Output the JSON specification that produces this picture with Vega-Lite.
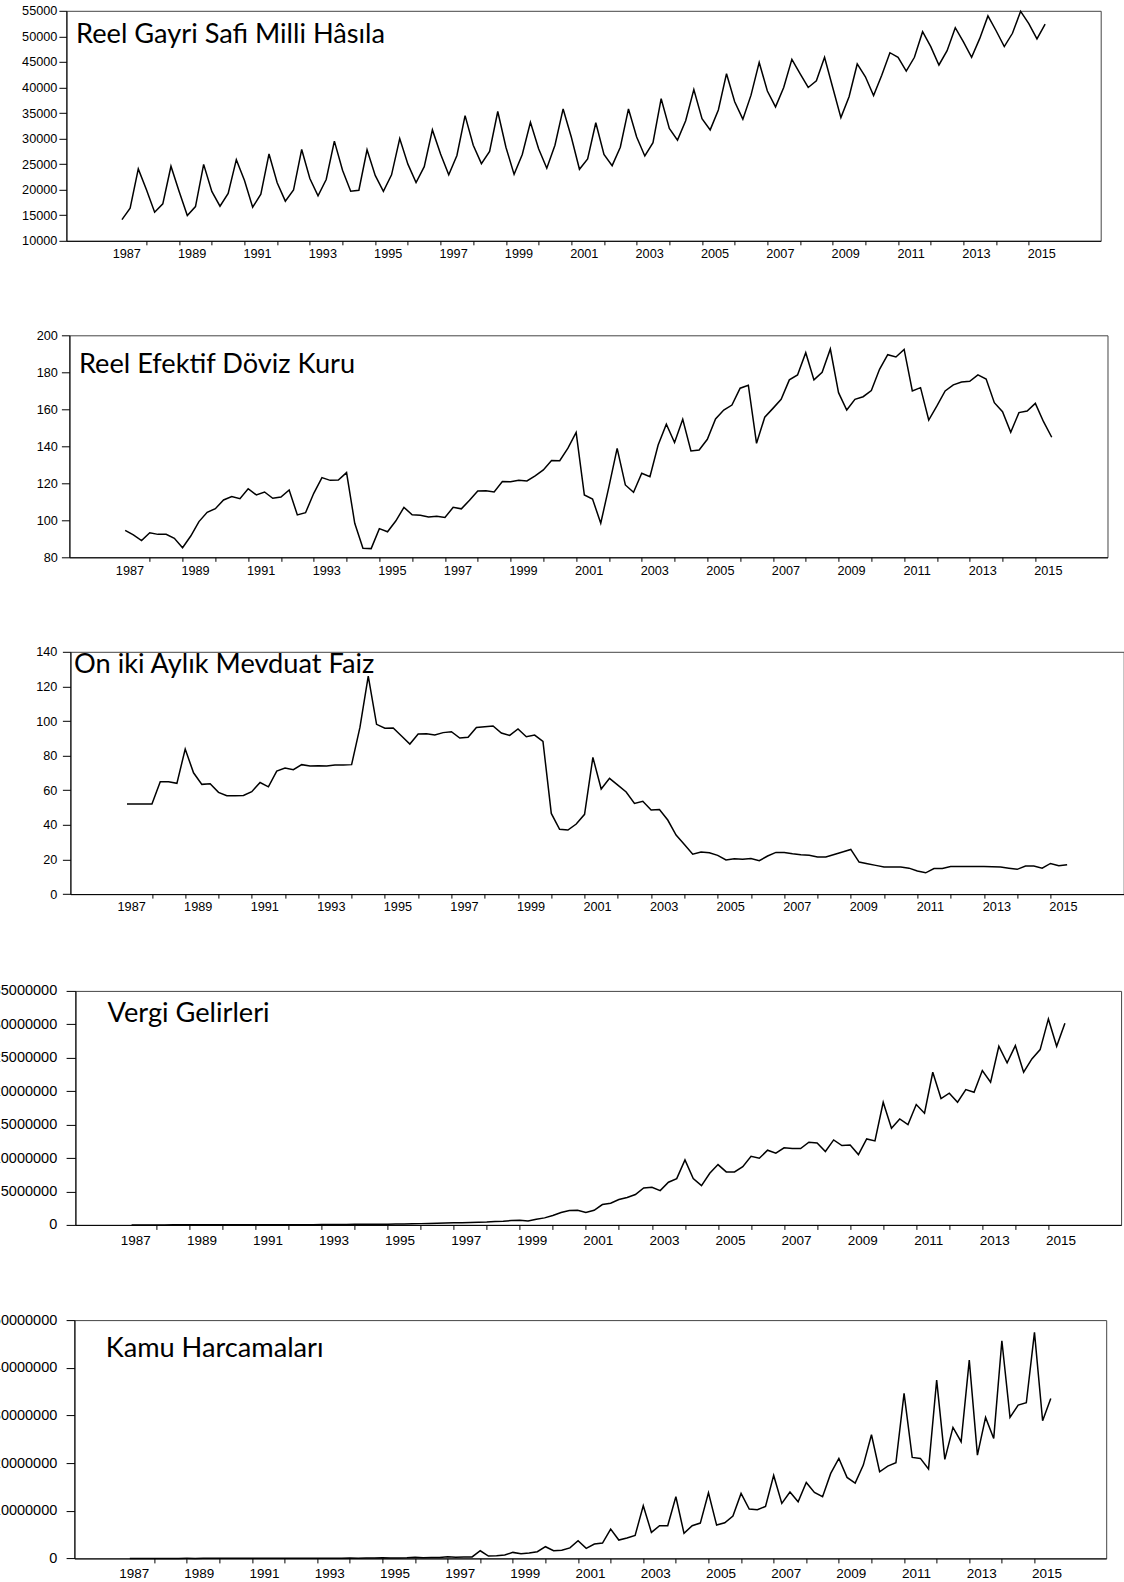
{
"$schema": "https://vega.github.io/schema/vega-lite/v6.json",
"background": "white",
"autosize": {"type": "pad"},
"padding": {"left": -8.6, "top": 3.8, "right": 0, "bottom": 0},
"config": {
  "view": {"stroke": "#444", "strokeWidth": 1},
  "axis": {"labelFont": "Liberation Sans", "labelColor": "#000", "tickColor": "#000", "domainColor": "#000", "grid": false, "labelOverlap": false, "labelFlush": false, "labelBound": false, "domainWidth": 1, "tickWidth": 1}
},
"datasets": {"q": [
{"t":1987,"gdp":14150,"reer":94.6,"rate":52,"tax":1500,"exp":1000},
{"t":1987.25,"gdp":16380,"reer":92.1,"rate":52,"tax":1700,"exp":1200},
{"t":1987.5,"gdp":24060,"reer":89.0,"rate":52,"tax":1900,"exp":1300},
{"t":1987.75,"gdp":20000,"reer":93.3,"rate":52,"tax":2300,"exp":2500},
{"t":1988,"gdp":15590,"reer":92.4,"rate":64.9,"tax":2600,"exp":1800},
{"t":1988.25,"gdp":17230,"reer":92.4,"rate":64.9,"tax":3000,"exp":2100},
{"t":1988.5,"gdp":24590,"reer":90.3,"rate":64.0,"tax":3400,"exp":2400},
{"t":1988.75,"gdp":19650,"reer":85.2,"rate":83.8,"tax":4200,"exp":4500},
{"t":1989,"gdp":14930,"reer":91.5,"rate":70.1,"tax":4800,"exp":3300},
{"t":1989.25,"gdp":16700,"reer":99.3,"rate":63.4,"tax":5600,"exp":3900},
{"t":1989.5,"gdp":24960,"reer":104.3,"rate":63.8,"tax":6400,"exp":4500},
{"t":1989.75,"gdp":19650,"reer":106.3,"rate":58.8,"tax":7800,"exp":8500},
{"t":1990,"gdp":16770,"reer":111.0,"rate":56.8,"tax":9000,"exp":6000},
{"t":1990.25,"gdp":19260,"reer":112.8,"rate":56.8,"tax":10500,"exp":7200},
{"t":1990.5,"gdp":25870,"reer":111.7,"rate":57.0,"tax":12000,"exp":8300},
{"t":1990.75,"gdp":21800,"reer":117.1,"rate":59.2,"tax":14500,"exp":15000},
{"t":1991,"gdp":16570,"reer":113.7,"rate":64.5,"tax":16000,"exp":11000},
{"t":1991.25,"gdp":19130,"reer":115.3,"rate":62.0,"tax":18500,"exp":13000},
{"t":1991.5,"gdp":26990,"reer":111.9,"rate":71.1,"tax":21000,"exp":15000},
{"t":1991.75,"gdp":21360,"reer":112.6,"rate":72.8,"tax":25000,"exp":27000},
{"t":1992,"gdp":17760,"reer":116.4,"rate":71.9,"tax":28000,"exp":19000},
{"t":1992.25,"gdp":19930,"reer":102.9,"rate":74.8,"tax":33000,"exp":22000},
{"t":1992.5,"gdp":27860,"reer":104.1,"rate":74.0,"tax":37000,"exp":25000},
{"t":1992.75,"gdp":22200,"reer":114.6,"rate":74.2,"tax":44000,"exp":45000},
{"t":1993,"gdp":18800,"reer":123.1,"rate":74.0,"tax":50000,"exp":32000},
{"t":1993.25,"gdp":22000,"reer":121.6,"rate":74.6,"tax":58000,"exp":37000},
{"t":1993.5,"gdp":29500,"reer":121.8,"rate":74.6,"tax":65000,"exp":42000},
{"t":1993.75,"gdp":23800,"reer":125.8,"rate":74.8,"tax":78000,"exp":75000},
{"t":1994,"gdp":19700,"reer":98.4,"rate":96.3,"tax":85000,"exp":52000},
{"t":1994.25,"gdp":19900,"reer":84.9,"rate":126.0,"tax":95000,"exp":62000},
{"t":1994.5,"gdp":27800,"reer":84.7,"rate":98.1,"tax":105000,"exp":70000},
{"t":1994.75,"gdp":22800,"reer":95.5,"rate":95.8,"tax":115000,"exp":130000},
{"t":1995,"gdp":19700,"reer":93.8,"rate":96.0,"tax":120000,"exp":90000},
{"t":1995.25,"gdp":22900,"reer":99.6,"rate":91.3,"tax":140000,"exp":105000},
{"t":1995.5,"gdp":30000,"reer":107.0,"rate":86.7,"tax":160000,"exp":120000},
{"t":1995.75,"gdp":25000,"reer":103.0,"rate":92.5,"tax":190000,"exp":220000},
{"t":1996,"gdp":21400,"reer":102.7,"rate":92.7,"tax":210000,"exp":150000},
{"t":1996.25,"gdp":24500,"reer":101.8,"rate":91.9,"tax":240000,"exp":170000},
{"t":1996.5,"gdp":31700,"reer":102.2,"rate":93.3,"tax":270000,"exp":190000},
{"t":1996.75,"gdp":27000,"reer":101.5,"rate":93.8,"tax":310000,"exp":350000},
{"t":1997,"gdp":22900,"reer":107.0,"rate":90.2,"tax":330000,"exp":250000},
{"t":1997.25,"gdp":26700,"reer":106.2,"rate":90.6,"tax":360000,"exp":280000},
{"t":1997.5,"gdp":34500,"reer":110.8,"rate":96.3,"tax":380000,"exp":300000},
{"t":1997.75,"gdp":28700,"reer":115.8,"rate":96.7,"tax":420000,"exp":1600000},
{"t":1998,"gdp":25100,"reer":116.0,"rate":97.1,"tax":500000,"exp":490000},
{"t":1998.25,"gdp":27500,"reer":115.3,"rate":93.1,"tax":550000,"exp":560000},
{"t":1998.5,"gdp":35300,"reer":121.0,"rate":91.7,"tax":650000,"exp":700000},
{"t":1998.75,"gdp":28300,"reer":120.8,"rate":95.4,"tax":700000,"exp":1260000},
{"t":1999,"gdp":23000,"reer":121.6,"rate":90.9,"tax":600000,"exp":980000},
{"t":1999.25,"gdp":26900,"reer":121.3,"rate":91.9,"tax":850000,"exp":1120000},
{"t":1999.5,"gdp":33200,"reer":124.0,"rate":88.2,"tax":1050000,"exp":1400000},
{"t":1999.75,"gdp":28000,"reer":127.2,"rate":46.6,"tax":1400000,"exp":2450000},
{"t":2000,"gdp":24200,"reer":132.3,"rate":37.4,"tax":1840000,"exp":1610000},
{"t":2000.25,"gdp":28700,"reer":132.2,"rate":37.0,"tax":2140000,"exp":1700000},
{"t":2000.5,"gdp":35800,"reer":139.0,"rate":40.5,"tax":2190000,"exp":2200000},
{"t":2000.75,"gdp":30300,"reer":147.5,"rate":46.1,"tax":1840000,"exp":3710000},
{"t":2001,"gdp":24000,"reer":113.7,"rate":79.0,"tax":2190000,"exp":2100000},
{"t":2001.25,"gdp":26000,"reer":111.5,"rate":60.7,"tax":3040000,"exp":3010000},
{"t":2001.5,"gdp":33100,"reer":98.4,"rate":66.9,"tax":3240000,"exp":3220000},
{"t":2001.75,"gdp":26900,"reer":118.2,"rate":63.0,"tax":3790000,"exp":6150000},
{"t":2002,"gdp":24700,"reer":138.9,"rate":59.0,"tax":4090000,"exp":3850000},
{"t":2002.25,"gdp":28300,"reer":119.1,"rate":52.4,"tax":4540000,"exp":4270000},
{"t":2002.5,"gdp":35800,"reer":115.1,"rate":53.6,"tax":5530000,"exp":4830000},
{"t":2002.75,"gdp":30300,"reer":125.4,"rate":48.6,"tax":5630000,"exp":11050000},
{"t":2003,"gdp":26600,"reer":123.6,"rate":48.9,"tax":5130000,"exp":5450000},
{"t":2003.25,"gdp":29200,"reer":140.7,"rate":42.8,"tax":6380000,"exp":6850000},
{"t":2003.5,"gdp":37800,"reer":151.9,"rate":34.1,"tax":6930000,"exp":6850000},
{"t":2003.75,"gdp":32000,"reer":142.0,"rate":28.7,"tax":9720000,"exp":12940000},
{"t":2004,"gdp":29700,"reer":154.6,"rate":23.1,"tax":6930000,"exp":5240000},
{"t":2004.25,"gdp":33500,"reer":137.5,"rate":24.3,"tax":5880000,"exp":6850000},
{"t":2004.5,"gdp":39600,"reer":138.0,"rate":23.9,"tax":7730000,"exp":7410000},
{"t":2004.75,"gdp":33900,"reer":143.8,"rate":22.4,"tax":9020000,"exp":13780000},
{"t":2005,"gdp":31700,"reer":154.8,"rate":19.7,"tax":7930000,"exp":6990000},
{"t":2005.25,"gdp":35600,"reer":159.6,"rate":20.4,"tax":7930000,"exp":7480000},
{"t":2005.5,"gdp":42700,"reer":162.3,"rate":20.2,"tax":8720000,"exp":8880000},
{"t":2005.75,"gdp":37200,"reer":171.4,"rate":20.6,"tax":10270000,"exp":13640000},
{"t":2006,"gdp":33800,"reer":173.0,"rate":19.3,"tax":9970000,"exp":10350000},
{"t":2006.25,"gdp":38500,"reer":141.6,"rate":22.0,"tax":11170000,"exp":10210000},
{"t":2006.5,"gdp":44900,"reer":155.7,"rate":24.1,"tax":10720000,"exp":10910000},
{"t":2006.75,"gdp":39300,"reer":160.5,"rate":24.1,"tax":11520000,"exp":17410000},
{"t":2007,"gdp":36200,"reer":165.4,"rate":23.3,"tax":11420000,"exp":11540000},
{"t":2007.25,"gdp":40000,"reer":175.9,"rate":22.7,"tax":11420000,"exp":13920000},
{"t":2007.5,"gdp":45500,"reer":178.6,"rate":22.4,"tax":12360000,"exp":11890000},
{"t":2007.75,"gdp":42700,"reer":190.6,"rate":21.4,"tax":12260000,"exp":15940000},
{"t":2008,"gdp":40000,"reer":175.9,"rate":21.4,"tax":10970000,"exp":13850000},
{"t":2008.25,"gdp":41300,"reer":180.0,"rate":22.9,"tax":12710000,"exp":12940000},
{"t":2008.5,"gdp":45900,"reer":192.6,"rate":24.3,"tax":11860000,"exp":17830000},
{"t":2008.75,"gdp":40000,"reer":169.0,"rate":25.8,"tax":11960000,"exp":20980000},
{"t":2009,"gdp":34100,"reer":159.6,"rate":18.5,"tax":10520000,"exp":16990000},
{"t":2009.25,"gdp":38200,"reer":165.4,"rate":17.5,"tax":12860000,"exp":15800000},
{"t":2009.5,"gdp":44600,"reer":166.8,"rate":16.6,"tax":12560000,"exp":19580000},
{"t":2009.75,"gdp":42100,"reer":170.1,"rate":15.6,"tax":18340000,"exp":25940000},
{"t":2010,"gdp":38400,"reer":181.6,"rate":15.6,"tax":14460000,"exp":18180000},
{"t":2010.25,"gdp":42400,"reer":189.5,"rate":15.6,"tax":15850000,"exp":19370000},
{"t":2010.5,"gdp":46800,"reer":188.3,"rate":15.0,"tax":15000000,"exp":20070000},
{"t":2010.75,"gdp":45900,"reer":192.4,"rate":13.3,"tax":18000000,"exp":34620000},
{"t":2011,"gdp":43200,"reer":169.9,"rate":12.3,"tax":16700000,"exp":21190000},
{"t":2011.25,"gdp":45900,"reer":171.7,"rate":14.8,"tax":22830000,"exp":20980000},
{"t":2011.5,"gdp":50900,"reer":154.2,"rate":14.8,"tax":18900000,"exp":18740000},
{"t":2011.75,"gdp":48000,"reer":161.8,"rate":16.0,"tax":19700000,"exp":37410000},
{"t":2012,"gdp":44400,"reer":169.9,"rate":16.0,"tax":18340000,"exp":20770000},
{"t":2012.25,"gdp":47200,"reer":173.2,"rate":16.0,"tax":20240000,"exp":27480000},
{"t":2012.5,"gdp":51700,"reer":174.8,"rate":16.0,"tax":19840000,"exp":24480000},
{"t":2012.75,"gdp":48900,"reer":175.1,"rate":16.0,"tax":23080000,"exp":41610000},
{"t":2013,"gdp":45900,"reer":178.6,"rate":15.8,"tax":21340000,"exp":21680000},
{"t":2013.25,"gdp":49600,"reer":176.4,"rate":15.6,"tax":26720000,"exp":29580000},
{"t":2013.5,"gdp":54000,"reer":163.6,"rate":15.0,"tax":24230000,"exp":25170000},
{"t":2013.75,"gdp":51100,"reer":158.7,"rate":14.3,"tax":26820000,"exp":45660000},
{"t":2014,"gdp":48000,"reer":147.6,"rate":16.2,"tax":22830000,"exp":29580000},
{"t":2014.25,"gdp":50600,"reer":158.2,"rate":16.2,"tax":24830000,"exp":32170000},
{"t":2014.5,"gdp":54900,"reer":159.1,"rate":15.0,"tax":26220000,"exp":32660000},
{"t":2014.75,"gdp":52500,"reer":163.2,"rate":17.7,"tax":30810000,"exp":47410000},
{"t":2015,"gdp":49500,"reer":153.3,"rate":16.4,"tax":26720000,"exp":28880000},
{"t":2015.25,"gdp":52400,"reer":144.9,"rate":17.0,"tax":30160000,"exp":33570000}
]},
"spacing": 67.1,
"vconcat": [
{"spacing": 67.5, "vconcat": [
{"hconcat": [
  {"width": 1, "height": 1, "data": {"values": []}, "mark": "text", "view": {"stroke": null}},
  {"width": 1034.3, "height": 230, "data": {"name": "q"},
   "layer": [
    {"mark": {"type": "line", "color": "#000", "strokeWidth": 1.5},
     "encoding": {
      "x": {"field": "t", "type": "quantitative", "scale": {"domain": [1985.3, 2016.95], "nice": false, "zero": false},
            "axis": {"title": null, "values": [1986.75,1987.75,1988.75,1989.75,1990.75,1991.75,1992.75,1993.75,1994.75,1995.75,1996.75,1997.75,1998.75,1999.75,2000.75,2001.75,2002.75,2003.75,2004.75,2005.75,2006.75,2007.75,2008.75,2009.75,2010.75,2011.75,2012.75,2013.75,2014.75],
                     "labelExpr": "(datum.value + 0.25) % 2 == 1 ? toString(datum.value + 0.25) : ''",
                     "tickOpacity": {"condition": {"test": "datum.value < 1987", "value": 0}, "value": 1},
                     "tickCount": 60, "labelOverlap": false, "tickSize": 4, "labelPadding": 2.7, "labelOffset": 12.5, "labelFontSize": 12.7}},
      "y": {"field": "gdp", "type": "quantitative", "scale": {"domain": [10000, 55000], "nice": false, "zero": false},
            "axis": {"title": null, "values": [10000,15000,20000,25000,30000,35000,40000,45000,50000,55000], "format": "d", "tickCount": 60, "labelOverlap": false, "tickSize": 7.5, "labelPadding": 2, "labelFontSize": 12.7}}
     }},
    {"data": {"values": [{"label": "Reel Gayri Safi Milli Hâsıla"}]},
     "mark": {"type": "text", "align": "left", "baseline": "alphabetic", "font": "Lato", "fontSize": 27.2, "color": "#000"},
     "encoding": {"x": {"datum": 1985.595}, "y": {"datum": 48622}, "text": {"field": "label"}}}
   ]}
 ], "spacing": 0, "bounds": "flush"},
{"hconcat": [
  {"width": 3.1, "height": 1, "data": {"values": []}, "mark": "text", "view": {"stroke": null}},
  {"width": 1038.1, "height": 222, "data": {"name": "q"},
   "layer": [
    {"mark": {"type": "line", "color": "#000", "strokeWidth": 1.5},
     "encoding": {
      "x": {"field": "t", "type": "quantitative", "scale": {"domain": [1985.3, 2016.95], "nice": false, "zero": false},
            "axis": {"title": null, "values": [1986.75,1987.75,1988.75,1989.75,1990.75,1991.75,1992.75,1993.75,1994.75,1995.75,1996.75,1997.75,1998.75,1999.75,2000.75,2001.75,2002.75,2003.75,2004.75,2005.75,2006.75,2007.75,2008.75,2009.75,2010.75,2011.75,2012.75,2013.75,2014.75],
                     "labelExpr": "(datum.value + 0.25) % 2 == 1 ? toString(datum.value + 0.25) : ''",
                     "tickOpacity": {"condition": {"test": "datum.value < 1987", "value": 0}, "value": 1},
                     "tickCount": 60, "labelOverlap": false, "tickSize": 4, "labelPadding": 2.7, "labelOffset": 12.5, "labelFontSize": 12.7}},
      "y": {"field": "reer", "type": "quantitative", "scale": {"domain": [80, 200], "nice": false, "zero": false},
            "axis": {"title": null, "values": [80,100,120,140,160,180,200], "format": "d", "tickCount": 60, "labelOverlap": false, "tickSize": 8, "labelPadding": 4, "labelFontSize": 12.7}}
     }},
    {"data": {"values": [{"label": "Reel Efektif Döviz Kuru"}]},
     "mark": {"type": "text", "align": "left", "baseline": "alphabetic", "font": "Lato", "fontSize": 27.2, "color": "#000"},
     "encoding": {"x": {"datum": 1985.59}, "y": {"datum": 179.5}, "text": {"field": "label"}}}
   ]}
 ], "spacing": 0, "bounds": "flush"},
{"hconcat": [
  {"width": 4.1, "height": 1, "data": {"values": []}, "mark": "text", "view": {"stroke": null}},
  {"width": 1053.3, "height": 242.3, "data": {"name": "q"},
   "layer": [
    {"mark": {"type": "line", "color": "#000", "strokeWidth": 1.5},
     "encoding": {
      "x": {"field": "t", "type": "quantitative", "scale": {"domain": [1985.3, 2016.95], "nice": false, "zero": false},
            "axis": {"title": null, "values": [1986.75,1987.75,1988.75,1989.75,1990.75,1991.75,1992.75,1993.75,1994.75,1995.75,1996.75,1997.75,1998.75,1999.75,2000.75,2001.75,2002.75,2003.75,2004.75,2005.75,2006.75,2007.75,2008.75,2009.75,2010.75,2011.75,2012.75,2013.75,2014.75],
                     "labelExpr": "(datum.value + 0.25) % 2 == 1 ? toString(datum.value + 0.25) : ''",
                     "tickOpacity": {"condition": {"test": "datum.value < 1987", "value": 0}, "value": 1},
                     "tickCount": 60, "labelOverlap": false, "tickSize": 4, "labelPadding": 2.7, "labelOffset": 12.5, "labelFontSize": 12.7}},
      "y": {"field": "rate", "type": "quantitative", "scale": {"domain": [0, 140], "nice": false, "zero": false},
            "axis": {"title": null, "values": [0,20,40,60,80,100,120,140], "format": "d", "tickCount": 60, "labelOverlap": false, "tickSize": 8, "labelPadding": 5.5, "labelFontSize": 12.7}}
     }},
    {"data": {"values": [{"label": "On iki Aylık Mevduat Faiz"}]},
     "mark": {"type": "text", "align": "left", "baseline": "alphabetic", "font": "Lato", "fontSize": 27.2, "color": "#000"},
     "encoding": {"x": {"datum": 1985.41}, "y": {"datum": 127.5}, "text": {"field": "label"}}}
   ]}
 ], "spacing": 0, "bounds": "flush"}
]},
{"spacing": 63.2, "vconcat": [
{"hconcat": [
  {"width": 10, "height": 1, "data": {"values": []}, "mark": "text", "view": {"stroke": null}},
  {"width": 1045.7, "height": 234, "data": {"name": "q"},
   "layer": [
    {"mark": {"type": "line", "color": "#000", "strokeWidth": 1.5},
     "encoding": {
      "x": {"field": "t", "type": "quantitative", "scale": {"domain": [1985.3, 2016.95], "nice": false, "zero": false},
            "axis": {"title": null, "values": [1986.75,1987.75,1988.75,1989.75,1990.75,1991.75,1992.75,1993.75,1994.75,1995.75,1996.75,1997.75,1998.75,1999.75,2000.75,2001.75,2002.75,2003.75,2004.75,2005.75,2006.75,2007.75,2008.75,2009.75,2010.75,2011.75,2012.75,2013.75,2014.75],
                     "labelExpr": "(datum.value + 0.25) % 2 == 1 ? toString(datum.value + 0.25) : ''",
                     "tickOpacity": {"condition": {"test": "datum.value < 1987", "value": 0}, "value": 1},
                     "tickCount": 60, "labelOverlap": false, "tickSize": 4.5, "labelPadding": 3.8, "labelOffset": 12, "labelFontSize": 13.5}},
      "y": {"field": "tax", "type": "quantitative", "scale": {"domain": [0, 35000000], "nice": false, "zero": false},
            "axis": {"title": null, "values": [0,5000000,10000000,15000000,20000000,25000000,30000000,35000000], "format": "d", "tickCount": 60, "labelOverlap": false, "tickSize": 9.3, "labelPadding": 9.4, "labelFontSize": 14.5}}
     }},
    {"data": {"values": [{"label": "Vergi Gelirleri"}]},
     "mark": {"type": "text", "align": "left", "baseline": "alphabetic", "font": "Lato", "fontSize": 27.2, "color": "#000"},
     "encoding": {"x": {"datum": 1986.275}, "y": {"datum": 30300000}, "text": {"field": "label"}}}
   ]}
 ], "spacing": 0, "bounds": "flush"},
{"hconcat": [
  {"width": 8.4, "height": 1, "data": {"values": []}, "mark": "text", "view": {"stroke": null}},
  {"width": 1031.8, "height": 238.3, "data": {"name": "q"},
   "layer": [
    {"mark": {"type": "line", "color": "#000", "strokeWidth": 1.5},
     "encoding": {
      "x": {"field": "t", "type": "quantitative", "scale": {"domain": [1985.3, 2016.95], "nice": false, "zero": false},
            "axis": {"title": null, "values": [1986.75,1987.75,1988.75,1989.75,1990.75,1991.75,1992.75,1993.75,1994.75,1995.75,1996.75,1997.75,1998.75,1999.75,2000.75,2001.75,2002.75,2003.75,2004.75,2005.75,2006.75,2007.75,2008.75,2009.75,2010.75,2011.75,2012.75,2013.75,2014.75],
                     "labelExpr": "(datum.value + 0.25) % 2 == 1 ? toString(datum.value + 0.25) : ''",
                     "tickOpacity": {"condition": {"test": "datum.value < 1987", "value": 0}, "value": 1},
                     "tickCount": 60, "labelOverlap": false, "tickSize": 4.5, "labelPadding": 3.8, "labelOffset": 12, "labelFontSize": 13.5}},
      "y": {"field": "exp", "type": "quantitative", "scale": {"domain": [0, 50000000], "nice": false, "zero": false},
            "axis": {"title": null, "values": [0,10000000,20000000,30000000,40000000,50000000], "format": "d", "tickCount": 60, "labelOverlap": false, "tickSize": 8.3, "labelPadding": 9.3, "labelFontSize": 14.5}}
     }},
    {"data": {"values": [{"label": "Kamu Harcamaları"}]},
     "mark": {"type": "text", "align": "left", "baseline": "alphabetic", "font": "Lato", "fontSize": 27.2, "color": "#000"},
     "encoding": {"x": {"datum": 1986.26}, "y": {"datum": 42300000}, "text": {"field": "label"}}}
   ]}
 ], "spacing": 0, "bounds": "flush"}
]}
]
}
